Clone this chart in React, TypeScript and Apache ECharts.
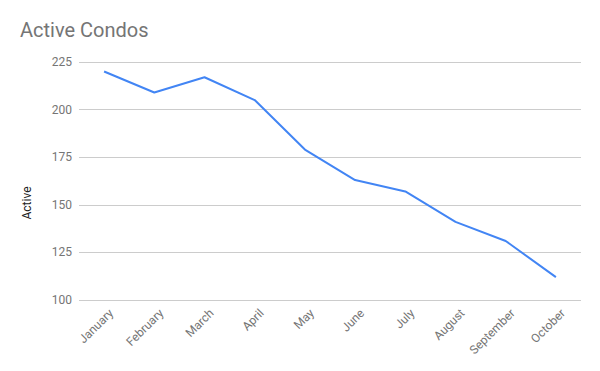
import React, { useEffect, useRef } from "react";
import * as echarts from "echarts";

const categories = ["January", "February", "March", "April", "May", "June", "July", "August", "September", "October"];
const activeValues = [220, 209, 217, 205, 179, 163, 157, 141, 131, 112];
const yTicks = { min: 100, max: 225, interval: 25 };

export default function App() {
  const ref = useRef<HTMLDivElement>(null);
  useEffect(() => {
    if (!ref.current) return;
    const chart = echarts.init(ref.current, undefined, { renderer: "svg" });
    chart.setOption({
      animation: false,
      backgroundColor: "#ffffff",
      textStyle: { fontFamily: "Roboto" },
      title: {
        text: "Active Condos",
        left: 20,
        top: 20,
        padding: 0,
        textStyle: { fontFamily: "Roboto", fontSize: 20, fontWeight: "normal", color: "#757575" },
      },
      grid: { left: 79, right: 19, top: 62, bottom: 71 },
      xAxis: {
        type: "category",
        data: categories,
        boundaryGap: true,
        axisLine: { show: false },
        axisTick: { show: false },
        axisLabel: {
          rotate: 45,
          color: "#757575",
          fontSize: 12,
          fontFamily: "Roboto",
          margin: 4,
          interval: 0,
          verticalAlign: "top",
          padding: [4, 0, 0, 0],
        },
      },
      yAxis: {
        type: "value",
        min: yTicks.min,
        max: yTicks.max,
        interval: yTicks.interval,
        name: "Active",
        nameLocation: "middle",
        nameGap: 46,
        nameTextStyle: { color: "#222222", fontSize: 12, fontFamily: "Roboto", padding: [0, 44, 0, 0] },
        axisLine: { show: false },
        axisTick: { show: false },
        axisLabel: { color: "#757575", fontSize: 12, fontFamily: "Roboto", margin: 7 },
        splitLine: { lineStyle: { color: "#cccccc", width: 1 } },
      },
      series: [
        {
          type: "line",
          data: activeValues,
          symbol: "none",
          lineStyle: { color: "#4285f4", width: 2 },
          itemStyle: { color: "#4285f4" },
        },
      ],
    });
    return () => chart.dispose();
  }, []);
  return <div ref={ref} style={{ width: 600, height: 371, position: "absolute", left: 0, top: 0 }} />;
}
